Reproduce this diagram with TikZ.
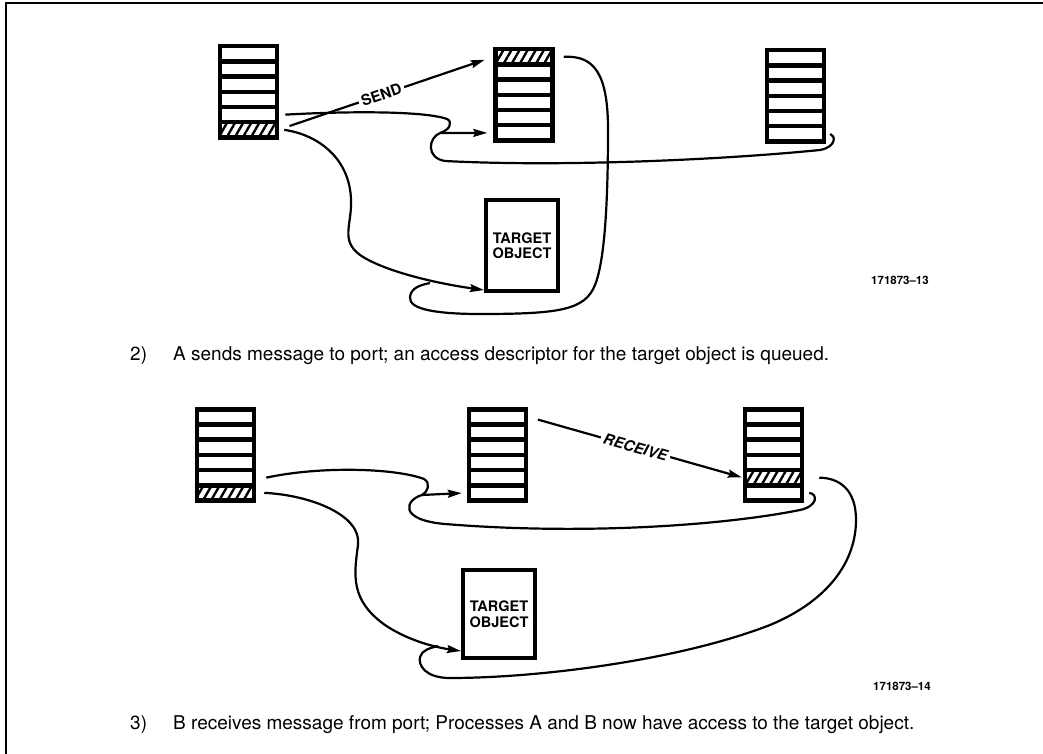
\documentclass[tikz,border=0pt]{standalone}
\usepackage{fontspec}
\setmainfont{TeX Gyre Heros}
\usepackage{tikz}
\usetikzlibrary{arrows.meta,patterns.meta}

\begin{document}
\begin{tikzpicture}[x=1pt, y=-1pt, >=Stealth,
  cell/.style={draw, line width=4.5pt, fill=white, minimum width=57pt, minimum height=15.2pt, inner sep=0pt},
  hatched/.style={pattern={Lines[angle=60,distance=7pt,line width=2.4pt]}},
  target/.style={draw, line width=4pt, minimum width=72pt, inner sep=0pt, align=center,
    font=\fontsize{14.5}{15.5}\selectfont\bfseries},
  link/.style={line width=2.2pt},
  arr/.style={link, -{Stealth[length=14pt,width=8pt,inset=2pt]}},
  lbl/.style={sloped, fill=white, inner sep=3pt, font=\fontsize{15}{16}\selectfont\bfseries},
  caption/.style={anchor=base west, inner sep=0pt, font=\fontsize{19}{21}\selectfont},
  figid/.style={anchor=base west, inner sep=0pt, font=\fontsize{11.5}{13}\selectfont\bfseries}]
\useasboundingbox (0,0) rectangle (1043,754);
\draw[line width=1.8pt] (6,754) -- (6,3) -- (1043,3);

% queues: name / center x / top y / hatched cell (0 = none)
\foreach \s/\x/\y/\h in {A1/248.5/44/6, B1/524/47/1, C1/795.5/48/0,
                          A2/225.5/407/6, B2/497.5/407/0, C2/773.5/407/5}
  \foreach \i in {1,...,6} {
    \ifnum\i=\h \tikzset{cur/.style=hatched}\else\tikzset{cur/.style={}}\fi
    \node[cell, cur] (\s-\i) at (\x,{\y+9.85+15.2*(\i-1)}) {};
  }

\node[target, minimum height=91pt] (T1) at (522,245.5) {TARGET\\OBJECT};
\node[target, minimum height=88pt] (T2) at (499,614) {TARGET\\OBJECT};

% step 2
\draw[arr, shorten <=12pt, shorten >=9pt] (A1-6.east) -- node[lbl, pos=0.48] {SEND} (B1-1.west);
\draw[link] ([xshift=6pt]A1-5.east) .. controls (350,111) and (425,111) .. (447,119)
  .. controls (453,122) and (450,130) .. (440,133) coordinate (j1);
\draw[arr, shorten >=6pt] (j1) -- (B1-6.west);
\draw[link] (j1) .. controls (428,138) and (426,158) .. (445,161)
  .. controls (560,167) and (720,160) .. (820,150)
  .. controls (836,147) and (836,136) .. ([xshift=4pt]C1-6.east);
\draw[arr] ([xshift=6pt]A1-6.east) .. controls (320,135) and (350,160) .. (351,200)
  .. controls (352,225) and (340,240) .. (360,255)
  .. controls (385,272) and (440,284) .. ([yshift=3pt]T1.south west);
\draw[link] ([xshift=9pt]B1-1.east) .. controls (595,55) and (608,75) .. (608,130)
  .. controls (608,200) and (605,260) .. (595,285)
  .. controls (585,310) and (560,314) .. (480,314)
  .. controls (440,314) and (408,310) .. (410,297)
  .. controls (411,288) and (420,285) .. (430,283);

\node[figid] (id13) at (871,284) {171873--13};
\node[caption] (step2) at (130,360) {2)};
\node[caption] (step2txt) at (173,360) {A sends message to port; an access descriptor for the target object is queued.};

% step 3
\draw[arr, shorten <=10pt, shorten >=1pt] (B2-1.east) -- node[lbl, font=\fontsize{15}{16}\selectfont\bfseries\itshape] {RECEIVE} (C2-5.west);
\draw[link] ([xshift=10pt]A2-5.east) .. controls (320,466) and (395,468) .. (424,479)
  .. controls (431,483) and (428,492) .. (422,495) coordinate (j2);
\draw[arr, shorten >=5pt] (j2) -- (B2-6.west);
\draw[link] (j2) .. controls (405,500) and (398,520) .. (445,524)
  .. controls (580,535) and (720,526) .. (800,510)
  .. controls (818,506) and (818,494) .. ([xshift=5pt]C2-6.east);
\draw[link] ([xshift=15pt]C2-5.east) .. controls (840,478) and (856,490) .. (856,520)
  .. controls (856,560) and (830,600) .. (770,625)
  .. controls (680,660) and (540,678) .. (450,678)
  .. controls (425,678) and (418,665) .. (420,657)
  .. controls (422,650) and (430,648) .. (438,646);
\draw[arr] ([xshift=8pt]A2-6.east) .. controls (310,495) and (362,515) .. (358,545)
  .. controls (354,575) and (350,600) .. (385,625)
  .. controls (410,642) and (440,648) .. ([yshift=9pt]T2.south west);

\node[figid] (id14) at (873,690) {171873--14};
\node[caption] (step3) at (130,729) {3)};
\node[caption] (step3txt) at (173,729) {B receives message from port; Processes A and B now have access to the target object.};
\end{tikzpicture}
\end{document}
